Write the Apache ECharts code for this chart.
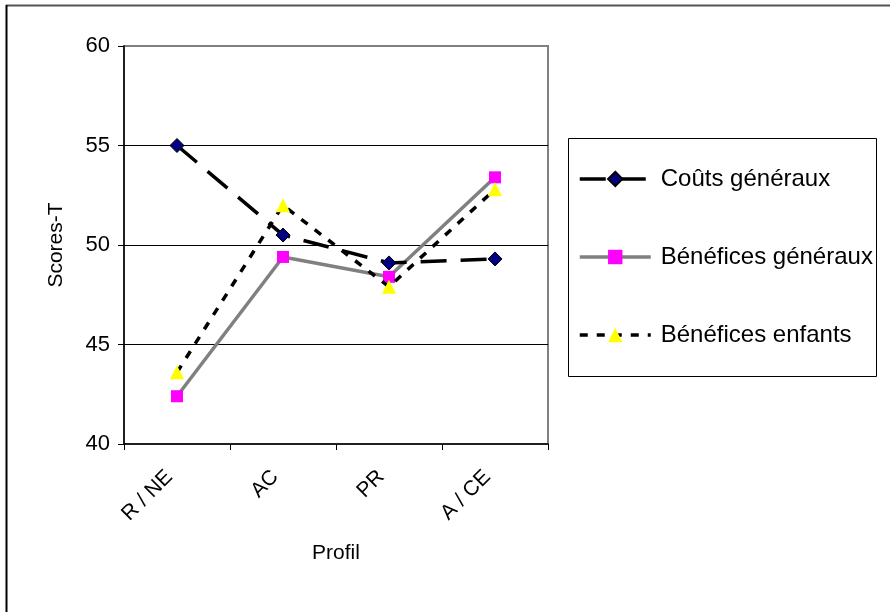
<!DOCTYPE html>
<html>
<head>
<meta charset="utf-8">
<script src="https://cdn.jsdelivr.net/npm/echarts@6/dist/echarts.min.js"></script>
<style>
html,body{margin:0;padding:0;background:#fff;}
#chart{width:890px;height:612px;}
</style>
</head>
<body>
<div id="chart"></div>
<script>
const categories = ['R / NE', 'AC', 'PR', 'A / CE'];
const coutsGeneraux = [55.0, 50.5, 49.1, 49.3];
const beneficesGeneraux = [42.4, 49.4, 48.4, 53.4];
const beneficesEnfants = [43.6, 52.0, 47.9, 52.8];
const seriesNames = ['Coûts généraux', 'Bénéfices généraux', 'Bénéfices enfants'];

const FONT = '"Liberation Sans", Arial, sans-serif';
const chart = echarts.init(document.getElementById('chart'), null, {renderer: 'canvas'});

chart.setOption({
  animation: false,
  backgroundColor: '#fff',
  textStyle: {fontFamily: FONT},
  grid: {
    left: 124, right: 342, top: 46, bottom: 168,
    show: true, borderColor: '#808080', borderWidth: 2, backgroundColor: 'transparent'
  },
  graphic: [
    {type: 'line', shape: {x1: 6, y1: 5.5, x2: 890, y2: 5.5}, style: {stroke: '#555', lineWidth: 2}, z: 10},
    {type: 'line', shape: {x1: 6.5, y1: 5, x2: 6.5, y2: 612}, style: {stroke: '#000', lineWidth: 2}, z: 10},
    {type: 'rect', shape: {x: 568.5, y: 138.5, width: 308, height: 238}, style: {fill: 'transparent', stroke: '#000', lineWidth: 1}, z: 10}
  ],
  legend: {
    orient: 'vertical',
    left: 578, top: 167,
    padding: 0,
    itemWidth: 71, itemHeight: 18,
    itemGap: 54,
    data: seriesNames,
    lineStyle: {width: 'inherit'},
    textStyle: {fontSize: 24, color: '#000', fontFamily: FONT, padding: [0, 0, 0, 5]}
  },
  xAxis: {
    type: 'category',
    data: categories,
    boundaryGap: true,
    axisLine: {lineStyle: {color: '#000', width: 1.5}},
    axisTick: {show: true, length: 6, lineStyle: {color: '#000'}},
    axisLabel: {rotate: 45, fontSize: 21, color: '#000', margin: 22, padding: [0, 11, 0, 0], fontFamily: FONT},
    name: 'Profil',
    nameLocation: 'middle',
    nameGap: 99,
    nameTextStyle: {fontSize: 21, color: '#000', fontFamily: FONT}
  },
  yAxis: {
    type: 'value',
    min: 40, max: 60, interval: 5,
    axisLine: {show: true, lineStyle: {color: '#000', width: 1.5}},
    axisTick: {show: true, length: 6, lineStyle: {color: '#000'}},
    axisLabel: {fontSize: 22, color: '#000', margin: 14, fontFamily: FONT},
    splitLine: {show: true, showMinLine: false, showMaxLine: false, lineStyle: {color: '#000', width: 1}},
    name: 'Scores-T',
    nameLocation: 'middle',
    nameGap: 57,
    nameRotate: 90,
    nameTextStyle: {fontSize: 21, color: '#000', fontFamily: FONT}
  },
  series: [
    {
      name: seriesNames[0], type: 'line', data: coutsGeneraux,
      symbol: 'diamond', symbolSize: 14,
      itemStyle: {color: '#000080', borderColor: '#000', borderWidth: 1},
      lineStyle: {color: '#000', width: 3.5, type: [26, 14]},
      z: 3
    },
    {
      name: seriesNames[1], type: 'line', data: beneficesGeneraux,
      symbol: 'rect', symbolSize: 12,
      itemStyle: {color: '#ff00ff', borderWidth: 0},
      lineStyle: {color: '#808080', width: 3.5, type: 'solid'},
      z: 2
    },
    {
      name: seriesNames[2], type: 'line', data: beneficesEnfants,
      symbol: 'triangle', symbolSize: 14,
      itemStyle: {color: '#ffff00', borderWidth: 0},
      lineStyle: {color: '#000', width: 3.5, type: [8, 9]},
      z: 4
    }
  ]
});
</script>
</body>
</html>
